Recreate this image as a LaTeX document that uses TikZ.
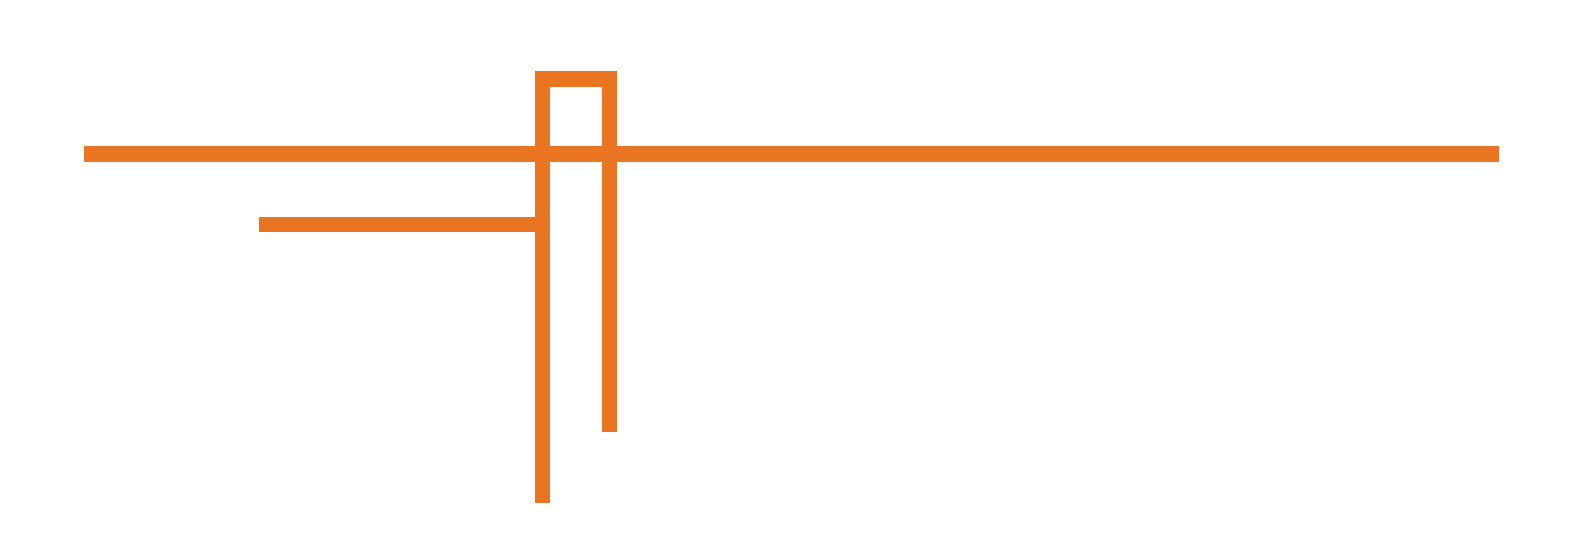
\documentclass[tikz,border=0pt]{standalone}
\usepackage{tikz}
\definecolor{myorange}{RGB}{233,116,34}

\begin{document}
\begin{tikzpicture}
[
  x=0.75pt, y=-0.75pt,
  bar/.style={draw=myorange, line width=11.6pt, line join=miter}
]
\useasboundingbox (0,0) rectangle (1584,543);
\coordinate (main west) at (84,154);
\coordinate (main east) at (1499,154);
\coordinate (feed west) at (259,224.5);
\coordinate (feed east) at (550,224.5);
\coordinate (left foot) at (542.5,503);
\coordinate (left top) at (542.5,78.8);
\coordinate (right top) at (609.3,78.8);
\coordinate (right foot) at (609.3,431.7);

\foreach \i/\j in {main west/main east,feed west/feed east}
  \draw [bar] (\i) -- (\j);
\draw [bar] (left foot) -- (left top) -- (right top) -- (right foot);
\end{tikzpicture}
\end{document}
